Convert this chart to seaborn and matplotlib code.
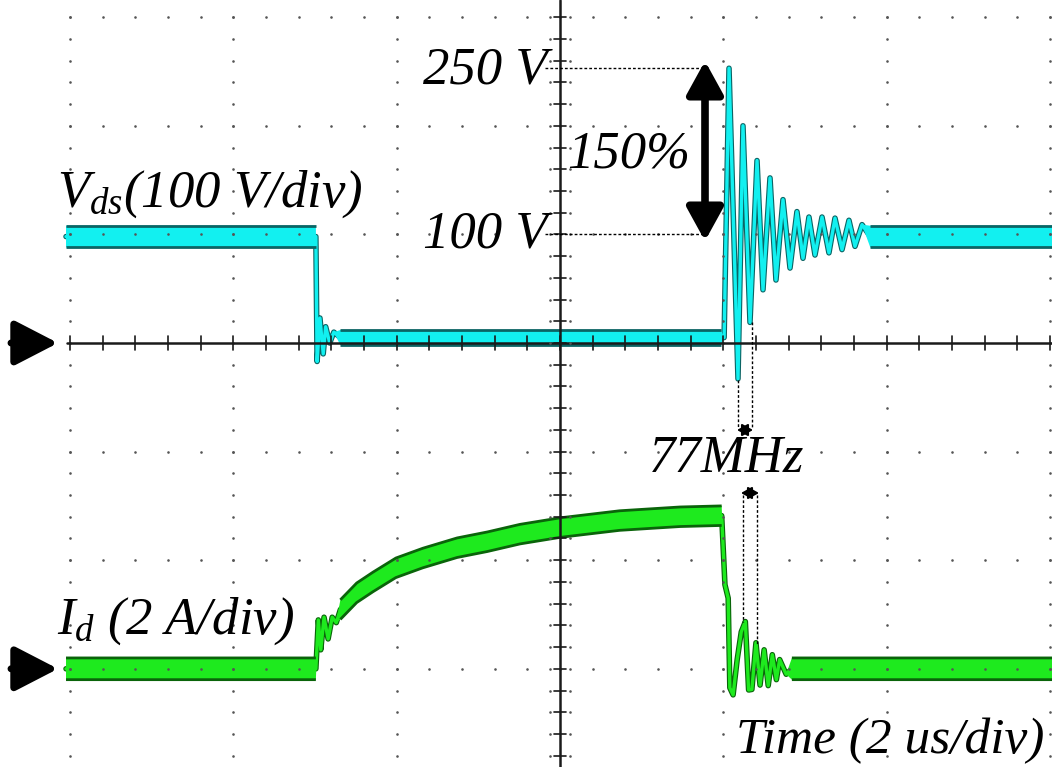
import numpy as np
import matplotlib
matplotlib.use("Agg")
import matplotlib.pyplot as plt
import matplotlib.patheffects as pe
import seaborn as sns

# ---------------- data ----------------
# Vds trace: time in us, voltage in V, half noise-band in V
vds_t = [-6.05, -2.99, -2.975, -2.94, -2.90, -2.87, -2.82, -2.77, -2.69, 1.97,
         2.01, 2.07, 2.18, 2.241, 2.327, 2.413, 2.486, 2.572, 2.645, 2.731,
         2.817, 2.902, 2.976, 3.049, 3.123, 3.209, 3.294, 3.368, 3.454, 3.539,
         3.613, 3.699, 3.80, 6.10]
vds_v = [98, 98, -17, 23, -10, 15, 0, 10, 5, 5,
         5, 253, -33, 200, 19, 168, 49, 152, 58, 132,
         69, 121, 78, 116, 81, 116, 83, 115, 86, 113,
         89, 109, 98, 98]
vds_w = [10, 10, 0, 0, 0, 0, 0, 0, 7, 7,
         0, 0, 0, 0, 0, 0, 0, 0, 0, 0,
         0, 0, 0, 0, 0, 0, 0, 0, 0, 0,
         0, 0, 10, 10]

# Id trace: time in us, current in A, half noise-band in A
id_t = [-6.05, -2.99, -2.96, -2.93, -2.89, -2.84, -2.79, -2.74, -2.69, -2.49,
        -2.29, -2.01, -1.68, -1.26, -0.89, -0.49, 0.00, 0.73, 1.47, 1.98,
        2.02, 2.06, 2.08, 2.12, 2.17, 2.22, 2.27, 2.31, 2.35, 2.40,
        2.45, 2.50, 2.55, 2.60, 2.65, 2.69, 2.77, 2.84, 6.10]
id_v = [0.0, 0.0, 0.90, 0.35, 0.95, 0.55, 0.95, 0.85, 1.09, 1.40,
        1.60, 1.86, 2.04, 2.23, 2.34, 2.48, 2.60, 2.73, 2.80, 2.82,
        1.55, 1.30, -0.35, -0.48, 0.17, 0.68, 0.87, -0.39, -0.38, 0.48,
        -0.30, 0.35, -0.31, 0.26, -0.20, 0.17, -0.10, 0.0, 0.0]
id_w = [0.2, 0.2, 0, 0, 0, 0, 0, 0, 0.18, 0.18,
        0.18, 0.18, 0.18, 0.18, 0.18, 0.18, 0.18, 0.18, 0.18, 0.18,
        0, 0, 0, 0, 0, 0, 0, 0, 0, 0,
        0, 0, 0, 0, 0, 0, 0, 0.2, 0.2]

vds_scale = 100.0   # V/div
id_scale = 2.0      # A/div
id_offset = -3.0    # div (Id ground marker)
t_div = 2.0         # us/div

# ---------------- style ----------------
sns.set_style("white")
plt.rcParams["font.family"] = ["Liberation Serif", "DejaVu Serif"]
plt.rcParams["mathtext.fontset"] = "custom"
plt.rcParams["mathtext.it"] = "Liberation Serif:italic"
plt.rcParams["mathtext.rm"] = "Liberation Serif:italic"

CYAN, CYAN_D = "#12F0F0", "#0B6464"
GREEN, GREEN_D = "#1EEA1E", "#0A640A"
GRID = "#555555"

W, H = 1052, 767
fig = plt.figure(figsize=(W / 100, H / 100), dpi=100)
ax = fig.add_axes([0, 0, 1, 1])
ax.axis("off")

# pixel helpers for annotations (screen is 163.3 px/div horizontally, 108.6 px/div vertically)
def T(x):
    return (x - 560) / 163.3 * t_div

def D(y):
    return (343 - y) / 108.6

ax.set_xlim(T(0), T(W))
ax.set_ylim(D(H), D(0))


def draw_trace(t, v, w, col, dark):
    # thin trace with dark outline
    sns.lineplot(x=t, y=v, estimator=None, sort=False, color=col, lw=2.4, ax=ax, zorder=2,
                 path_effects=[pe.Stroke(linewidth=4.0, foreground=dark), pe.Normal()])
    # noise band: solid fill with dark upper / lower edges
    ax.fill_between(t, v - w, v + w, facecolor=col, edgecolor="none", linewidth=0, zorder=3)
    up = np.where(w > 0, v + w, np.nan)
    lo = np.where(w > 0, v - w, np.nan)
    ax.plot(t, up, color=dark, lw=2.0, zorder=3.5, solid_capstyle="butt")
    ax.plot(t, lo, color=dark, lw=2.0, zorder=3.5, solid_capstyle="butt")


vt = np.array(vds_t); vv = np.array(vds_v) / vds_scale; vw = np.array(vds_w) / vds_scale
it = np.array(id_t); iv = np.array(id_v) / id_scale + id_offset; iw = np.array(id_w) / id_scale
draw_trace(vt, vv, vw, CYAN, CYAN_D)
draw_trace(it, iv, iw, GREEN, GREEN_D)

# ---------------- graticule ----------------
major_t = np.arange(-3, 4) * t_div
major_d = np.arange(-3, 4)
col_y = np.round(np.arange(-3.8, 3.2, 0.2), 3)
row_x = np.round(np.arange(-3.0, 3.01, 0.2) * t_div, 3)
gx, gy = [], []
for mt in major_t:
    if mt == 0:
        continue
    gx += [mt] * len(col_y); gy += list(col_y)
for md in major_d:
    if md == 0:
        continue
    gx += list(row_x); gy += [md] * len(row_x)
ax.scatter(gx, gy, s=3.5, color=GRID, linewidths=0, zorder=5)

# centre lines
ax.plot([0, 0], [D(H), D(0)], color="#1a1a1a", lw=1.8, zorder=6)
ax.plot([T(67), T(W)], [0, 0], color="#1a1a1a", lw=1.8, zorder=6)
dxp = 6 / 163.3 * t_div
dyp = 7 / 108.6
for yy in col_y:
    ax.plot([-dxp, dxp], [yy, yy], color="#1a1a1a", lw=1.2, zorder=6)
ax.scatter([-1.6 * dxp] * len(col_y) + [1.6 * dxp] * len(col_y), list(col_y) * 2,
           s=3.5, color=GRID, linewidths=0, zorder=6)
for xx in row_x:
    ax.plot([xx, xx], [-dyp, dyp], color="#1a1a1a", lw=1.2, zorder=6)

# ---------------- ground markers ----------------
for lvl in (0.0, id_offset):
    ax.annotate("", xy=(T(58), lvl), xytext=(T(11), lvl),
                arrowprops=dict(arrowstyle="-|>,head_length=1.2,head_width=0.62",
                                mutation_scale=22, lw=5, color="k",
                                shrinkA=0, shrinkB=0), annotation_clip=False, zorder=7)

# ---------------- annotations ----------------
FS = 38
txt = dict(fontsize=FS, style="italic", color="k", zorder=8)
ax.text(T(57), D(207), r"$V_{ds}$(100 V/div)", ha="left", va="baseline", **txt)
ax.text(T(57), D(634), r"$I_{d}$ (2 A/div)", ha="left", va="baseline", **txt)
ax.text(T(548), D(83), "250 V", ha="right", va="baseline", **txt)
ax.text(T(548), D(248), "100 V", ha="right", va="baseline", **txt)
ax.text(T(567), D(167), "150%", ha="left", va="baseline", **txt)
ax.text(T(649), D(472), "77MHz", ha="left", va="baseline", **txt)
ax.text(T(1044), D(753), "Time (2 us/div)", ha="right", va="baseline",
        fontsize=37, style="italic", color="k", zorder=8)

dash = dict(color="k", lw=1.0, ls=(0, (2, 1.5)), zorder=7)
ax.plot([T(545), T(702)], [D(68), D(68)], **dash)
ax.plot([T(545), T(702)], [D(234), D(234)], **dash)

ax.annotate("", xy=(T(705), D(61)), xytext=(T(705), D(241)),
            arrowprops=dict(arrowstyle="<|-|>,head_length=1.0,head_width=0.55",
                            mutation_scale=20, lw=5.5, color="k", shrinkA=0, shrinkB=0),
            zorder=7)

# 77 MHz period markers
ax.plot([T(738), T(738)], [D(380), D(428)], **dash)
ax.plot([T(752), T(752)], [D(322), D(428)], **dash)
ax.annotate("", xy=(T(737), D(430)), xytext=(T(753), D(430)),
            arrowprops=dict(arrowstyle="<|-|>,head_length=0.8,head_width=0.45",
                            mutation_scale=8, lw=1.5, color="k", shrinkA=0, shrinkB=0), zorder=7)
ax.plot([T(743), T(743)], [D(495), D(622)], **dash)
ax.plot([T(757), T(757)], [D(495), D(645)], **dash)
ax.annotate("", xy=(T(741), D(493)), xytext=(T(759), D(493)),
            arrowprops=dict(arrowstyle="<|-|>,head_length=0.8,head_width=0.45",
                            mutation_scale=8, lw=1.5, color="k", shrinkA=0, shrinkB=0), zorder=7)

fig.savefig("out.png", dpi=100, facecolor="white")
